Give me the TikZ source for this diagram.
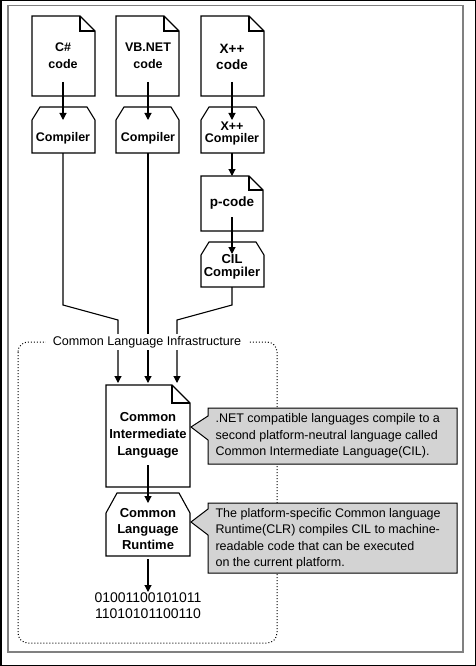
\documentclass[tikz,border=0pt]{standalone}
\usepackage{fontspec}
\setmainfont{Liberation Sans}
\usetikzlibrary{arrows.meta}
\definecolor{notegray}{RGB}{211,211,211}
\begin{document}
\begin{tikzpicture}[x=1pt,y=-1pt,line width=1.1pt,
  lbl/.style={font=\bfseries\fontsize{12.5}{17}\selectfont,align=center,inner sep=0pt},
  note/.style={font=\fontsize{12.5}{16.5}\selectfont,align=left,anchor=west,inner sep=0pt},
  arr/.style={-{Triangle[length=7pt,width=7pt]}}]
\useasboundingbox (0,0) rectangle (476,666);
\draw[line width=1.5pt] (0.75,0.75) rectangle (475.25,665.25); %outer border
\draw[gray,line width=1.5pt] (8,5.5) rectangle (463,652); %frame
%source documents
\draw (32,16) -- (80,16) -- (95,31) -- (95,96) -- (32,96) -- cycle; \draw (80,16) -- (80,31) -- (95,31); %C#
\draw (116,16) -- (164,16) -- (179,31) -- (179,96) -- (116,96) -- cycle; \draw (164,16) -- (164,31) -- (179,31); %VB
\draw (201,16) -- (249,16) -- (264,31) -- (264,96) -- (201,96) -- cycle; \draw (249,16) -- (249,31) -- (264,31); %X++
\draw (201,176) -- (249,176) -- (263,190) -- (263,231) -- (201,231) -- cycle; \draw (249,176) -- (249,190) -- (263,190); %p-code
\draw (106,385) -- (172,385) -- (190,403) -- (190,487) -- (106,487) -- cycle; \draw (172,385) -- (172,403) -- (190,403); %CIL
%compilers
\draw (40,107) -- (87,107) -- (95,120) -- (95,153) -- (32,153) -- (32,120) -- cycle;
\draw (124,107) -- (171,107) -- (179,120) -- (179,153) -- (116,153) -- (116,120) -- cycle;
\draw (209,107) -- (256,107) -- (264,120) -- (264,153) -- (201,153) -- (201,120) -- cycle;
\draw (209,242) -- (256,242) -- (264,255) -- (264,287) -- (201,287) -- (201,255) -- cycle; %CIL compiler
\draw (117,493) -- (179,493) -- (190,513) -- (190,556) -- (106,556) -- (106,513) -- cycle; %CLR
%labels
\node[lbl] (cscode) at (63,55.5) {C\#\\code};
\node[lbl] (vbcode) at (148,55.5) {VB.NET\\code};
\node[lbl,font=\bfseries\fontsize{13.5}{16}\selectfont] (xcode) at (232,57) {X++\\code};
\node[lbl] (cscomp) at (63,138) {Compiler};
\node[lbl] (vbcomp) at (148,138) {Compiler};
\node[lbl,font=\bfseries\fontsize{12.5}{12}\selectfont] (xcomp) at (232,133) {X++\\Compiler};
\node[lbl,font=\bfseries\fontsize{13.5}{16}\selectfont] (pcode) at (232,203) {p-code};
\node[lbl,font=\bfseries\fontsize{13}{13}\selectfont] (cilcomp) at (232,266.5) {CIL\\Compiler};
\node[lbl,font=\bfseries\fontsize{13}{17}\selectfont] (cil) at (148,435) {Common\\Intermediate\\Language};
\node[lbl,font=\bfseries\fontsize{13}{16}\selectfont] (clr) at (148,529) {Common\\Language\\Runtime};
\node[lbl,font=\fontsize{14}{16}\selectfont] (bin) at (148,606) {01001100101011\\11010101100110};
%arrow ends
\coordinate (cs-a) at (63,82); \coordinate (cs-b) at (63,120);
\coordinate (vb-a) at (148,82); \coordinate (vb-b) at (148,120);
\coordinate (x-a) at (232,82); \coordinate (x-b) at (232,120);
\coordinate (x-c) at (232,153); \coordinate (p-a) at (232,176);
\coordinate (p-b) at (232,217); \coordinate (cc-a) at (232,254);
\coordinate (cs-c) at (63,153); \coordinate (cs-d) at (63,305); \coordinate (cs-e) at (118,320); \coordinate (cil-l) at (118,383);
\coordinate (vb-c) at (148,153); \coordinate (cil-m) at (148,383);
\coordinate (cc-b) at (232,287); \coordinate (cc-c) at (232,305); \coordinate (cc-d) at (177,320); \coordinate (cil-r) at (177,383);
\coordinate (cil-a) at (148,465); \coordinate (clr-a) at (148,503);
\coordinate (clr-b) at (148,559); \coordinate (bin-a) at (148,592);
\draw[arr] (cs-a) -- (cs-b);
\draw[arr] (vb-a) -- (vb-b);
\draw[arr] (x-a) -- (x-b);
\draw[arr] (x-c) -- (p-a);
\draw[arr] (p-b) -- (cc-a);
\draw[arr] (cs-c) -- (cs-d) -- (cs-e) -- (cil-l);
\draw[arr] (vb-c) -- (cil-m);
\draw[arr] (cc-b) -- (cc-c) -- (cc-d) -- (cil-r);
\draw[arr] (cil-a) -- (clr-a);
\draw[arr] (clr-b) -- (bin-a);
%infrastructure
\draw[dotted,line width=1pt,rounded corners=10pt] (18,342) rectangle (277,643);
\node[fill=white,font=\fontsize{12.6}{15}\selectfont,inner xsep=7pt,inner ysep=2pt] (cli) at (147,342) {Common Language Infrastructure};
%notes
\draw[fill=notegray,line width=1pt] (208,408) -- (457,408) -- (457,464) -- (208,464) -- (208,440) -- (191,427) -- (208,416) -- cycle;
\node[note] (cilnote) at (215,436) {.NET compatible languages compile to a\\second platform-neutral language called\\Common Intermediate Language(CIL).};
\draw[fill=notegray,line width=1pt] (208,503) -- (457,503) -- (457,573) -- (208,573) -- (208,535) -- (191,522) -- (208,509) -- cycle;
\node[note] (clrnote) at (215,539) {The platform-specific Common language\\Runtime(CLR) compiles CIL to machine-\\readable code that can be executed\\on the current platform.};
\end{tikzpicture}
\end{document}
